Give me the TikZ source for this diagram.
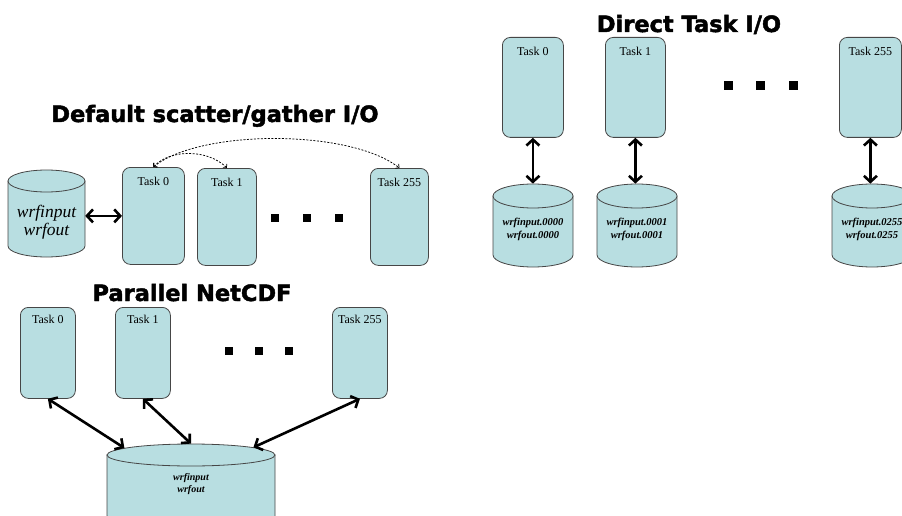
\documentclass[tikz,border=0pt]{standalone}
\usepackage{fontspec}
\setmainfont{Liberation Serif}
\newfontfamily\titlefont[FakeBold=2]{DejaVu Sans Bold}
\usetikzlibrary{shapes.geometric,arrows.meta,calc}
\definecolor{boxfill}{RGB}{184,222,225}
\definecolor{boxline}{RGB}{70,70,70}
\tikzset{
  taskbox/.style={draw=boxline, fill=boxfill, line width=0.8pt, rounded corners=8pt,
    inner sep=0pt, anchor=north west},
  tasklab/.style={anchor=north, inner sep=0pt, yshift=-10pt,
    font=\fontsize{12}{13}\selectfont},
  cylstyle/.style={draw=boxline, fill=boxfill, line width=0.8pt},
  dotsq/.style={rectangle, fill=black, inner sep=0pt, minimum size=#1},
  dotsq/.default=8pt,
  bigarrow/.style={line width=2.6pt, >={Straight Barb[length=6pt,width=13pt]}, <->},
  dasharrow/.style={line width=0.75pt, dash pattern=on 2pt off 1.5pt,
    >={Straight Barb[length=2.5pt,width=5.5pt]}, <->},
  titlestyle/.style={anchor=base, inner sep=0pt,
    font=\titlefont\fontsize{22.5}{27}\selectfont},
  bigtxt/.style={inner sep=0pt, align=center, font=\itshape\fontsize{17.5}{18}\selectfont},
  smalltxt/.style={inner sep=0pt, align=center, font=\bfseries\itshape\fontsize{10.5}{13}\selectfont},
  tinytxt/.style={inner sep=0pt, align=center, font=\bfseries\itshape\fontsize{10}{12}\selectfont},
}
% name, cx, top-ellipse centre y, bottom-ellipse centre y, rx, ry
\newcommand\cylshape[6]{%
  \filldraw[cylstyle] ({#2-#5},#3) -- ({#2-#5},#4)
     arc[start angle=180,end angle=360,x radius=#5pt,y radius=#6pt]
     -- ({#2+#5},#3) -- cycle;
  \node[cylstyle, ellipse, inner sep=0pt, minimum width=2*#5pt, minimum height=2*#6pt]
     (#1top) at (#2,#3) {};
  \node[inner sep=0pt, minimum width=2*#5pt, minimum height=(#4-#3)*1pt]
     (#1) at (#2,{(#3+#4)/2}) {};
}
\begin{document}
\begin{tikzpicture}[x=1pt,y=-1pt]
\useasboundingbox (0,0) rectangle (902,516);
\clip (0,0) rectangle (902,516);

% ---------------- Default scatter/gather I/O ----------------
\node[titlestyle] (ttl1) at (215,122) {Default scatter/gather I/O};
\cylshape{lcyl}{46.5}{181}{246}{38.5}{11}
\node[bigtxt, minimum width=77pt] (ltxt) at (46.5,222) {wrfinput\\wrfout};
\node[taskbox, minimum width=62pt, minimum height=97pt, label={[tasklab]north:Task 0}] (d0) at (122,167) {};
\node[taskbox, minimum width=59pt, minimum height=97pt, label={[tasklab]north:Task 1}] (d1) at (197,168) {};
\node[taskbox, minimum width=58pt, minimum height=97pt, label={[tasklab]north:Task 255}] (d255) at (370,168) {};
\node[dotsq] (dda) at (275,218) {};
\node[dotsq] (ddb) at (307,218) {};
\node[dotsq] (ddc) at (339,218) {};
\draw[bigarrow] (lcyl.east |- d0.west) -- (d0.west);
\draw[dasharrow] (d0.north) .. controls (170,149) and (208,149) .. (d1.north);
\draw[dasharrow] (d0.north) .. controls (200,129) and (350,129) .. (d255.north);

% ---------------- Parallel NetCDF ----------------
\node[titlestyle] (ttl2) at (192,301) {Parallel NetCDF};
\node[taskbox, minimum width=55pt, minimum height=91pt, label={[tasklab, yshift=2pt]north:Task 0}] (p0) at (20,307) {};
\node[taskbox, minimum width=55pt, minimum height=91pt, label={[tasklab, yshift=2pt]north:Task 1}] (p1) at (115,307) {};
\node[taskbox, minimum width=55pt, minimum height=91pt, label={[tasklab, yshift=2pt]north:Task 255}] (p255) at (332,307) {};
\node[dotsq] (pda) at (229,351) {};
\node[dotsq] (pdb) at (259,351) {};
\node[dotsq] (pdc) at (289,351) {};
\cylshape{pcyl}{191}{455}{516}{84}{11}
\node[tinytxt] (ptxt) at (191,484) {wrfinput\\wrfout};
\draw[bigarrow] (p0.south) -- (pcyltop.174);
\draw[bigarrow] (p1.south) -- (pcyltop.north);
\draw[bigarrow] (p255.south) -- (pcyltop.7);

% ---------------- Direct Task I/O ----------------
\node[titlestyle] (ttl3) at (689,32) {Direct Task I/O};
\node[taskbox, minimum width=61pt, minimum height=100pt, label={[tasklab]north:Task 0}] (x0) at (502,37) {};
\node[taskbox, minimum width=60pt, minimum height=100pt, label={[tasklab]north:Task 1}] (x1) at (605,37) {};
\node[taskbox, minimum width=62pt, minimum height=100pt, label={[tasklab]north:Task 255}] (x255) at (839,37) {};
\node[dotsq=9pt] (xda) at (728,86) {};
\node[dotsq=9pt] (xdb) at (760,86) {};
\node[dotsq=9pt] (xdc) at (793,86) {};
\cylshape{c0}{533}{196}{255}{40}{12}
\cylshape{c1}{637}{196}{255}{40}{12}
\cylshape{c255}{872}{196}{255}{40}{12}
\node[smalltxt] (c0txt) at (533,229) {wrfinput.0000\\wrfout.0000};
\node[smalltxt] (c1txt) at (637,229) {wrfinput.0001\\wrfout.0001};
\node[smalltxt] (c255txt) at (872,229) {wrfinput.0255\\wrfout.0255};
\draw[bigarrow] (x0.south) -- (x0.south |- c0top.north);
\draw[bigarrow] (x1.south) -- (x1.south |- c1top.north);
\draw[bigarrow] (x255.south) -- (x255.south |- c255top.north);
\end{tikzpicture}
\end{document}
